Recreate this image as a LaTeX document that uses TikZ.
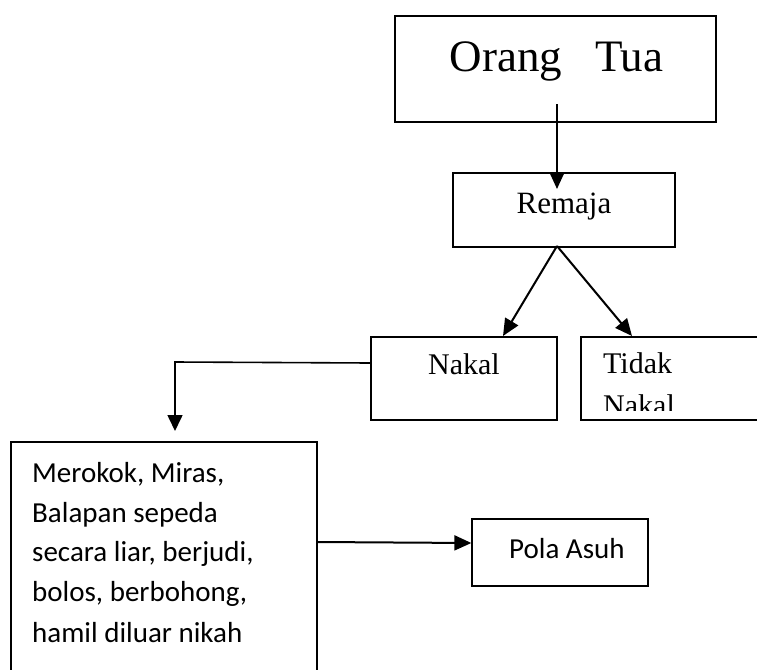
\documentclass[tikz,border=0pt]{standalone}
\usepackage{fontspec}
\setmainfont{Liberation Serif}
\newfontfamily\calfont{Carlito}
\usetikzlibrary{arrows.meta}
\begin{document}
\begin{tikzpicture}[x=1pt,y=-1pt,
  box/.style={draw=black,line width=1.3pt,rectangle,inner sep=0pt},
  conn/.style={draw=black,line width=2pt,-{Triangle[length=17pt,width=15pt]}},
  connthin/.style={draw=black,line width=1.6pt,-{Triangle[length=16pt,width=15pt]}},
  serif/.style={font=\fontsize{30}{36}\selectfont,inner sep=0pt,anchor=base},
  sans/.style={font=\calfont\fontsize{29}{35}\selectfont,inner sep=0pt,anchor=base west}]
\useasboundingbox (0,0) rectangle (757,669);
% boxes
\node[box,minimum width=321pt,minimum height=106pt] (ot) at (555.5,69) {};
\node[box,minimum width=222pt,minimum height=74pt] (rem) at (564,210) {};
\node[box,minimum width=186pt,minimum height=83pt] (nakal) at (464,378.5) {};
\node[box,minimum width=220pt,minimum height=83pt] (tidak) at (691,378.5) {};
\node[box,minimum width=306pt,minimum height=260pt] (mer) at (164,572) {};
\node[box,minimum width=176pt,minimum height=67pt] (pola) at (560,552.5) {};
% texts
\node[serif,font=\fontsize{45}{54}\selectfont] (otText) at (556.5,71) {Orang\hspace{33pt}Tua};
\node[serif,font=\fontsize{31}{36}\selectfont] (remText) at (564,213) {Remaja};
\node[serif] (nakalText) at (464,374) {Nakal};
\node[serif,anchor=base west] (tidakText1) at (603,373) {Tidak};
\begin{scope}
\clip (581,337) rectangle (800,410);
\node[serif,anchor=base west] (tidakText2) at (603,415) {Nakal};
\end{scope}
\node[sans] (m1) at (32,482) {Merokok, Miras,};
\node[sans] (m2) at (32,522) {Balapan sepeda};
\node[sans] (m3) at (32,561) {secara liar, berjudi,};
\node[sans] (m4) at (32,601) {bolos, berbohong,};
\node[sans] (m5) at (32,642) {hamil diluar nikah};
\node[sans] (polaText) at (509,558) {Pola Asuh};
% connector points
\coordinate (otStart) at (557,104);
\coordinate (remEnd) at (557,189);
\coordinate (remApex) at (557,246);
\coordinate (nakalEnd) at (503,336);
\coordinate (tidakEnd) at (632,336);
\coordinate (nakalStart) at (nakal.west |- 0,363);
\coordinate (bend) at (175,362);
\coordinate (merEnd) at (175,431);
\coordinate (merStart) at (mer.east |- 0,542);
\coordinate (polaEnd) at (pola.west |- 0,543);
% connectors
\draw[conn] (otStart) -- (remEnd);
\draw[conn] (remApex) -- (nakalEnd);
\draw[conn] (remApex) -- (tidakEnd);
\draw[connthin] (nakalStart) -- (bend) -- (merEnd);
\draw[conn] (merStart) -- (polaEnd);
\end{tikzpicture}
\end{document}
